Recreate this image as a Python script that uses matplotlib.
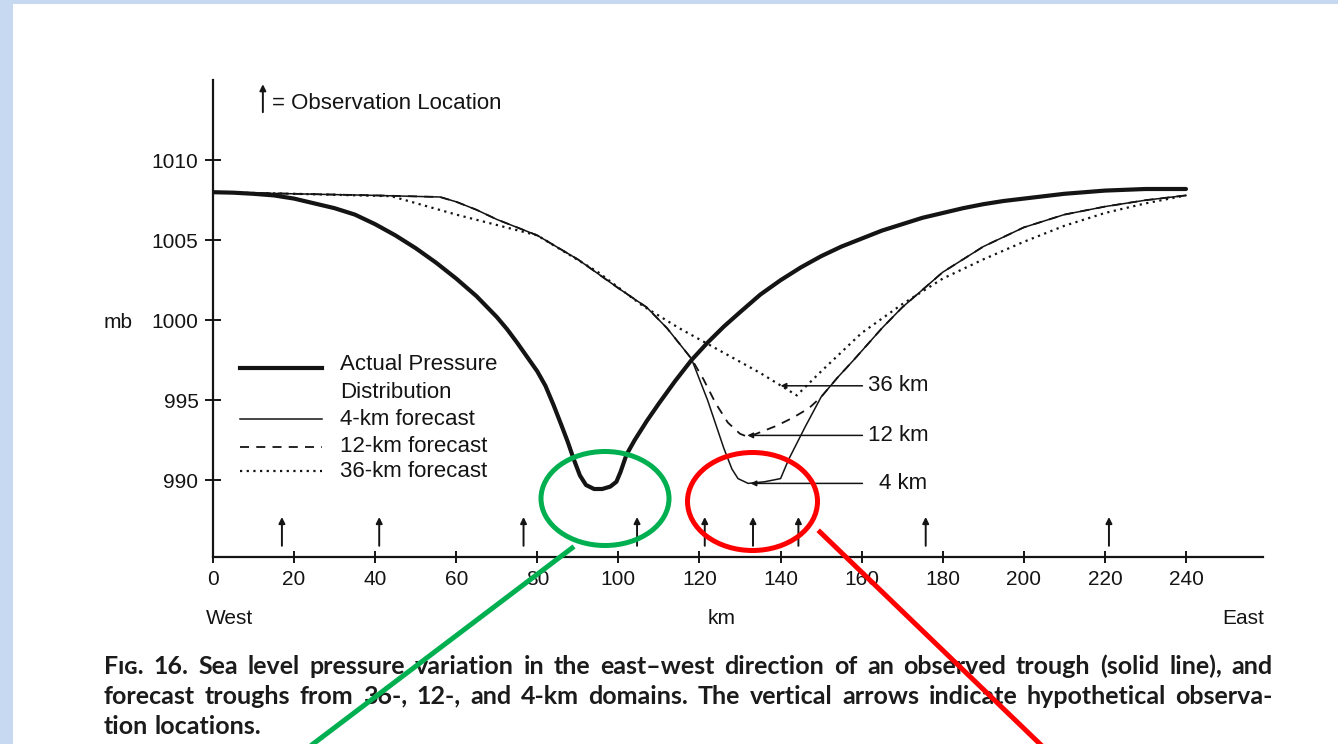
import matplotlib
matplotlib.use("Agg")
import matplotlib.pyplot as plt
from matplotlib.patches import Ellipse, Rectangle
from matplotlib.lines import Line2D

# ---------------- data ----------------
actual_km = [0, 5, 10, 15, 20, 25, 30, 35, 40, 45, 50, 55, 60, 65, 70, 72.5, 75, 77.5, 80, 82,
             84, 86, 87.5, 89, 90.5, 92, 94, 96, 98, 99.5, 100.5, 102, 104, 107, 110, 114, 118,
             122, 126, 130, 135, 140, 145, 150, 155, 160, 165, 170, 175, 180, 185, 190, 195,
             200, 210, 220, 230, 240]
actual_mb = [1008.0, 1007.97, 1007.9, 1007.8, 1007.6, 1007.3, 1007.0, 1006.6, 1006.0, 1005.3,
             1004.5, 1003.6, 1002.6, 1001.5, 1000.2, 999.45, 998.6, 997.7, 996.8, 995.9,
             994.7, 993.4, 992.4, 991.3, 990.3, 989.7, 989.45, 989.45, 989.6, 989.9, 990.5,
             991.6, 992.5, 993.7, 994.8, 996.2, 997.5, 998.6, 999.6, 1000.5, 1001.6, 1002.5,
             1003.3, 1004.0, 1004.6, 1005.1, 1005.6, 1006.0, 1006.4, 1006.7, 1007.0, 1007.25,
             1007.45, 1007.6, 1007.9, 1008.1, 1008.2, 1008.2]

f4_km = [0, 20, 40, 56, 60, 65, 70, 80, 90, 100, 107, 112, 118, 122, 126, 128, 129.5, 132, 136,
         140, 142, 146, 150, 154, 158, 165, 170, 180, 190, 200, 210, 220, 230, 240]
f4_mb = [1008.0, 1007.9, 1007.8, 1007.7, 1007.4, 1006.9, 1006.3, 1005.3, 1003.8, 1002.0,
         1000.8, 999.5, 997.6, 995.0, 992.0, 990.7, 990.1, 989.8, 989.9, 990.1, 991.3, 993.3,
         995.2, 996.4, 997.5, 999.5, 1000.8, 1003.0, 1004.6, 1005.8, 1006.6, 1007.1, 1007.5,
         1007.8]

f12_km = [0, 20, 40, 56, 60, 65, 70, 80, 90, 100, 107, 112, 118, 121, 124, 127, 130, 132, 135,
          139, 143, 147, 150, 154, 158, 165, 170, 180, 190, 200, 210, 220, 230, 240]
f12_mb = [1008.0, 1007.9, 1007.8, 1007.7, 1007.4, 1006.9, 1006.3, 1005.3, 1003.8, 1002.0,
          1000.8, 999.5, 997.6, 996.3, 994.8, 993.6, 992.9, 992.7, 993.0, 993.4, 993.9, 994.5,
          995.2, 996.4, 997.5, 999.5, 1000.8, 1003.0, 1004.6, 1005.8, 1006.6, 1007.1, 1007.5,
          1007.8]

f36_km = [0, 20, 44, 60, 80, 95, 106, 115, 125, 135, 144, 150, 160, 170, 180, 190, 200, 210,
          220, 230, 240]
f36_mb = [1008.0, 1007.9, 1007.75, 1006.6, 1005.3, 1003.0, 1000.9, 999.5, 998.1, 996.7, 995.3,
          996.8, 999.2, 1001.0, 1002.6, 1003.8, 1004.9, 1005.9, 1006.7, 1007.3, 1007.8]

obs_km = [17, 41, 76.6, 104.6, 121.3, 133.2, 144.4, 175.8, 221]

x_ticks = [0, 20, 40, 60, 80, 100, 120, 140, 160, 180, 200, 220, 240]
y_ticks = [990, 995, 1000, 1005, 1010]

domain_labels = ["36 km", "12 km", "4 km"]
domain_tips = [(140, 995.9), (131.8, 992.8), (132.6, 989.8)]

legend_labels = ["Actual Pressure", "4-km forecast", "12-km forecast", "36-km forecast"]

caption_lines = [
    "F\u026a\u0262. 16. Sea level pressure variation in the east\u2013west direction of an observed trough (solid line), and",
    "forecast troughs from 36-, 12-, and 4-km domains. The vertical arrows indicate hypothetical observa-",
    "tion locations.",
]

# ---------------- figure ----------------
W, H = 1338, 744
fig = plt.figure(figsize=(W / 100, H / 100), dpi=100)
fig.patch.set_facecolor("white")
INK = "#141414"
plt.rcParams["font.family"] = ["Liberation Sans", "DejaVu Sans"]

# light-blue slide border
fig.add_artist(Rectangle((0, 0), 13 / W, 1, transform=fig.transFigure, color="#c6d9f0", lw=0, zorder=0))
fig.add_artist(Rectangle((0, 1 - 4 / H), 1, 4 / H, transform=fig.transFigure, color="#c6d9f0", lw=0, zorder=0))

ax = fig.add_axes([213 / W, 1 - 557 / H, 1050 / W, 476.8 / H])
ax.set_xlim(0, 259)
ax.set_ylim(985.2, 1015.0)
for s in ["top", "right"]:
    ax.spines[s].set_visible(False)
for s in ["left", "bottom"]:
    ax.spines[s].set_linewidth(1.6)
    ax.spines[s].set_color(INK)
ax.set_xticks(x_ticks)
ax.set_yticks(y_ticks)
ax.tick_params(axis="y", direction="inout", length=11, width=1.4, pad=5, labelsize=15, colors=INK)
ax.tick_params(axis="x", direction="inout", length=9, width=1.4, pad=5, labelsize=15, colors=INK)

# curves
ax.plot(actual_km, actual_mb, color=INK, lw=3.0, solid_capstyle="round", solid_joinstyle="round")
ax.plot(f4_km, f4_mb, color=INK, lw=1.1)
ax.plot(f12_km, f12_mb, color=INK, lw=1.3, linestyle=(0, (5, 4)))
ax.plot(f36_km, f36_mb, color=INK, lw=1.6, linestyle=(0, (1, 2)))

# observation arrows
for xk in obs_km:
    ax.annotate("", xy=(xk, 987.7), xytext=(xk, 985.9),
                arrowprops=dict(arrowstyle="-|>", color=INK, lw=1.4, mutation_scale=9,
                                shrinkA=0, shrinkB=0))

# key for observation arrow
ax.annotate("", xy=(12.3, 1014.75), xytext=(12.3, 1013.0),
            arrowprops=dict(arrowstyle="-|>", color=INK, lw=1.4, mutation_scale=9,
                            shrinkA=0, shrinkB=0))
ax.text(14.6, 1013.55, "= Observation Location", fontsize=16, color=INK, va="center", ha="left")

# domain labels with pointers
for lab, (tx, ty) in zip(domain_labels, domain_tips):
    ax.annotate("", xy=(tx, ty), xytext=(160.2, ty),
                arrowprops=dict(arrowstyle="-|>", color=INK, lw=1.1, mutation_scale=8,
                                shrinkA=0, shrinkB=0))
    off = 164.3 if lab == "4 km" else 161.5
    ax.text(off, ty, lab, fontsize=16, color=INK, va="center", ha="left")

# manual legend
leg_y_handles = [997.0, 993.8, 992.1, 990.55]
leg_y_text = [997.2, 993.8, 992.1, 990.55]
styles = [dict(lw=3.0), dict(lw=1.1), dict(lw=1.3, linestyle=(0, (5, 4))),
          dict(lw=1.6, linestyle=(0, (1, 2)))]
for yh, yt, lab, st in zip(leg_y_handles, leg_y_text, legend_labels, styles):
    ax.plot([6.7, 26.9], [yh, yh], color=INK, **st)
    ax.text(31.3, yt, lab, fontsize=16, color=INK, va="center", ha="left")
ax.text(31.3, 995.5, "Distribution", fontsize=16, color=INK, va="center", ha="left")

# axis captions
fig.text(118 / W, 1 - 322 / H, "mb", fontsize=15, color=INK, ha="center", va="center")
fig.text(206 / W, 1 - 619 / H, "West", fontsize=15, color=INK, ha="left", va="center")
fig.text(722 / W, 1 - 619 / H, "km", fontsize=15, color=INK, ha="center", va="center")
fig.text(1264 / W, 1 - 619 / H, "East", fontsize=15, color=INK, ha="right", va="center")

# justified caption
renderer = fig.canvas.get_renderer()
cap_kw = dict(fontsize=18, fontweight="bold", color="#1b1b1b", va="center", ha="left",
              family=["Lato", "DejaVu Sans"])
cap_y = [666, 696, 726]
for i, (line, yy) in enumerate(zip(caption_lines, cap_y)):
    words = line.split(" ")
    arts = [fig.text(0, 1 - yy / H, w, **cap_kw) for w in words]
    widths = [a.get_window_extent(renderer).width for a in arts]
    if i < len(caption_lines) - 1:
        gap = (1273 - 104 - sum(widths)) / (len(words) - 1)
    else:
        sp = fig.text(0, 0, "a a", **cap_kw)
        sp2 = fig.text(0, 0, "aa", **cap_kw)
        gap = sp.get_window_extent(renderer).width - sp2.get_window_extent(renderer).width
        sp.remove(); sp2.remove()
    x = 104
    for a, w in zip(arts, widths):
        a.set_x(x / W)
        x += w + gap

# highlight ellipses and pointer lines
fig.add_artist(Ellipse((605 / W, 1 - 498.5 / H), 128 / W, 94 / H, transform=fig.transFigure,
                       fill=False, edgecolor="#00b050", lw=3.6, zorder=10))
fig.add_artist(Ellipse((752.5 / W, 1 - 501.5 / H), 130 / W, 98 / H, transform=fig.transFigure,
                       fill=False, edgecolor="#ff0000", lw=3.6, zorder=10))
fig.add_artist(Line2D([572 / W, 313 / W], [1 - 548 / H, 0], transform=fig.transFigure,
                      color="#00b050", lw=3.6, zorder=10))
fig.add_artist(Line2D([820 / W, 1040 / W], [1 - 532 / H, 0], transform=fig.transFigure,
                      color="#ff0000", lw=3.6, zorder=10))

fig.savefig("out.png", dpi=100)
